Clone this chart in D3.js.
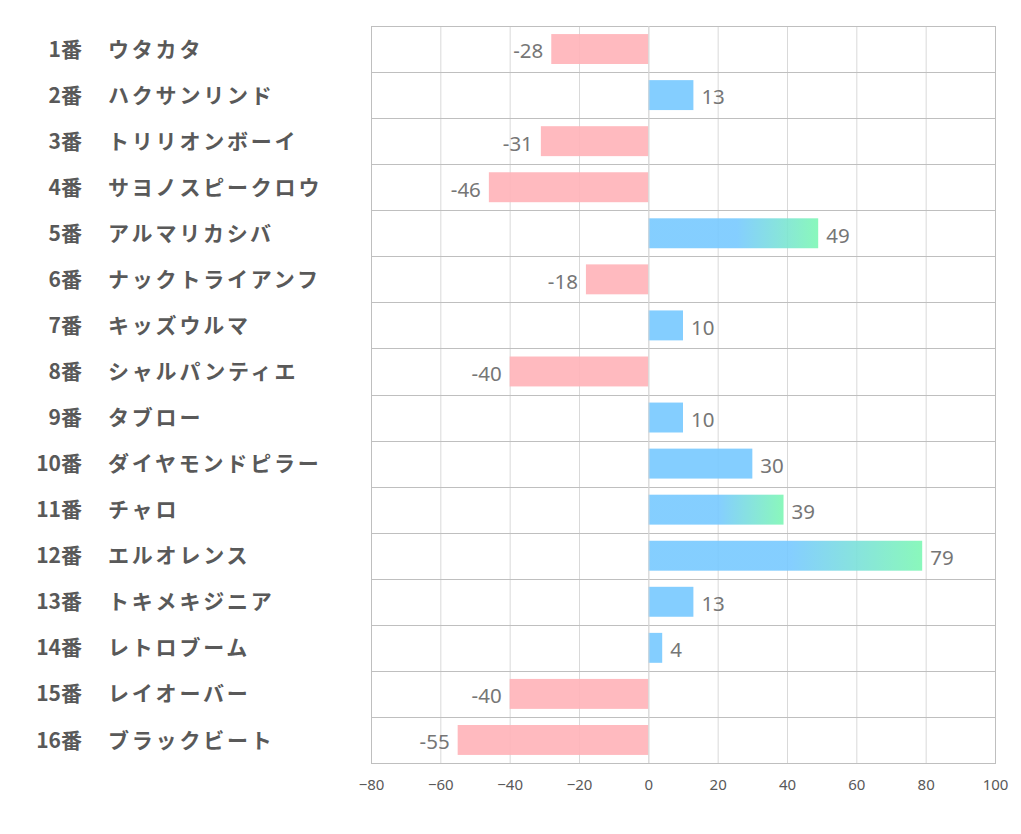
<!DOCTYPE html>
<html><head><meta charset="utf-8">
<script src="https://cdn.jsdelivr.net/npm/d3@7"></script>
<style>body{margin:0;background:#fff;}</style>
</head><body>
<svg id="c" width="1021" height="834"></svg>
<script>
const numbers = ["1番","2番","3番","4番","5番","6番","7番","8番","9番","10番","11番","12番","13番","14番","15番","16番"];
const names = ["ウタカタ","ハクサンリンド","トリリオンボーイ","サヨノスピークロウ","アルマリカシバ","ナックトライアンフ","キッズウルマ","シャルパンティエ","タブロー","ダイヤモンドピラー","チャロ","エルオレンス","トキメキジニア","レトロブーム","レイオーバー","ブラックビート"];
const values = [-28,13,-31,-46,49,-18,10,-40,10,30,39,79,13,4,-40,-55];
const highlighted = [false,false,false,false,true,false,false,false,false,false,true,true,false,false,false,false];
const ticks = [-80,-60,-40,-20,0,20,40,60,80,100];

const svg = d3.select("#c");
const L = 371, R = 995, T = 26, B = 763;
const x = d3.scaleLinear().domain([-80,100]).range([L,R]);
const y = d3.scaleBand().domain(d3.range(values.length)).range([T,B]).paddingInner(0.35).paddingOuter(0.175);
const step = y.step();

const defs = svg.append("defs");
const g = defs.append("linearGradient").attr("id","grad").attr("x1","0%").attr("x2","100%").attr("y1","0%").attr("y2","0%");
g.append("stop").attr("offset","0%").attr("stop-color","#77C9FF");
g.append("stop").attr("offset","52%").attr("stop-color","#77C9FF");
g.append("stop").attr("offset","100%").attr("stop-color","#7DF7B4");

// vertical gridlines
svg.append("g").selectAll("line").data(ticks).join("line")
  .attr("x1",d=>x(d)+0.5).attr("x2",d=>x(d)+0.5).attr("y1",T).attr("y2",B)
  .attr("stroke",d=>(d===-80||d===100)?"#bfbfbf":"#d9d9d9").attr("stroke-width",1);
// horizontal row separators
svg.append("g").selectAll("line").data(d3.range(values.length+1)).join("line")
  .attr("x1",L).attr("x2",R+1).attr("y1",i=>Math.round(T+i*step)+0.5).attr("y2",i=>Math.round(T+i*step)+0.5)
  .attr("stroke","#bfbfbf").attr("stroke-width",1);

// bars
svg.append("g").selectAll("rect").data(values).join("rect")
  .attr("x",d=>x(Math.min(0,d))).attr("width",d=>Math.abs(x(d)-x(0)))
  .attr("y",(d,i)=>y(i)).attr("height",y.bandwidth())
  .attr("fill",(d,i)=>d<0?"#FFB3B8":(highlighted[i]?"url(#grad)":"#77C9FF"))
  .attr("opacity",0.9);

// zero line
svg.append("line").attr("x1",x(0)+0.5).attr("x2",x(0)+0.5).attr("y1",T).attr("y2",B).attr("stroke","#d9d9d9");

// value labels
svg.append("g").selectAll("text").data(values).join("text")
  .attr("x",d=>d<0?x(d)-8:x(d)+8)
  .attr("y",(d,i)=>y(i)+y.bandwidth()/2+2)
  .attr("dy","0.36em")
  .attr("text-anchor",d=>d<0?"end":"start")
  .attr("font-family","'Noto Sans', 'Open Sans', sans-serif")
  .attr("font-size",20.5).attr("fill","#767676")
  .text(d=>d);

// category labels
const lab = svg.append("g").attr("font-family","'Noto Sans CJK JP', sans-serif").attr("font-weight","bold").attr("fill","#595959");
lab.selectAll("text.n").data(numbers).join("text").attr("class","n")
  .attr("x",82).attr("y",(d,i)=>y(i)+y.bandwidth()/2).attr("dy","0.36em").attr("text-anchor","end")
  .attr("font-size",21).text(d=>d);
lab.selectAll("text.m").data(names).join("text").attr("class","m")
  .attr("x",108).attr("y",(d,i)=>y(i)+y.bandwidth()/2).attr("dy","0.36em").attr("text-anchor","start")
  .attr("font-size",21).attr("letter-spacing",2.8).text(d=>d);

// x axis
const ax = svg.append("g").attr("transform",`translate(0,${B})`)
  .call(d3.axisBottom(x).tickValues(ticks).tickSize(0).tickPadding(16).tickFormat(d3.format("d")));
ax.select(".domain").attr("stroke","#bfbfbf");
ax.selectAll("text").attr("font-family","'Noto Sans', sans-serif").attr("font-size",15).attr("fill","#595959");
</script>
</body></html>
